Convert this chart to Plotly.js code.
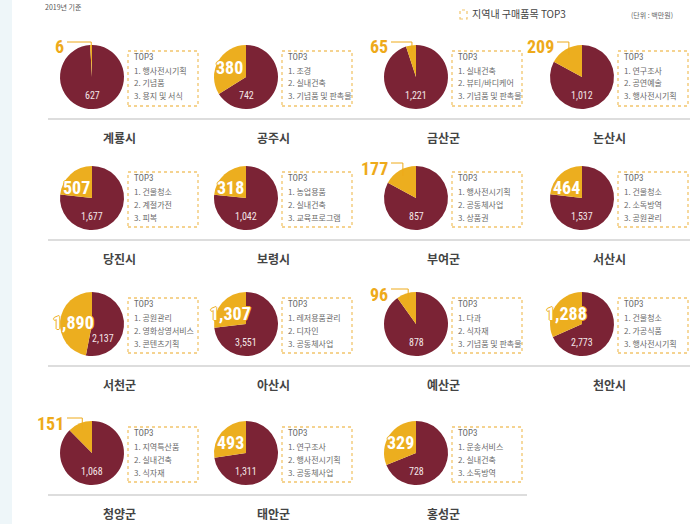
<!DOCTYPE html>
<html>
<head>
<meta charset="utf-8">
<script src="https://cdn.plot.ly/plotly-3.0.1.min.js"></script>
<style>
html,body{margin:0;padding:0;background:#fff;}
#chart{width:693px;height:524px;}
</style>
</head>
<body>
<div id="chart"></div>
<script>
// ---- data ----
const cities = ['계룡시','공주시','금산군','논산시','당진시','보령시','부여군','서산시','서천군','아산시','예산군','천안시','청양군','태안군','홍성군'];
const localValues = [6, 380, 65, 209, 507, 318, 177, 464, 1890, 1307, 96, 1288, 151, 493, 329];
const outsideValues = [627, 742, 1221, 1012, 1677, 1042, 857, 1537, 2137, 3551, 878, 2773, 1068, 1311, 728];
const top1 = ['행사전시기획','조경','실내건축','연구조사','건물청소','농업용품','행사전시기획','건물청소','공원관리','레저용품관리','다과','건물청소','지역특산품','연구조사','운송서비스'];
const top2 = ['기념품','실내건축','뷰티/바디케어','공연예술','계절가전','실내건축','공동체사업','소독방역','영화상영서비스','디자인','식자재','가공식품','실내건축','행사전시기획','실내건축'];
const top3 = ['용지 및 서식','기념품 및 판촉물','기념품 및 판촉물','행사전시기획','피복','교육프로그램','상품권','공원관리','콘텐츠기획','공동체사업','기념품 및 판촉물','행사전시기획','식자재','공동체사업','소독방역'];
const sliceNames = ['지역외 구매액','지역내 구매액'];

// ---- layout / style ----
const W = 693, H = 524;
const colX = [92, 246, 416, 582];
const rowY = [77, 198, 324, 453];
const R = 32;
const YELLOW = '#ecae1f', RED = '#7b2335', YTEXT = '#eeaa1a';
const NUM = '"Liberation Sans Narrow","Roboto Condensed","Roboto","Noto Sans",sans-serif';
const KR = '"Noto Sans CJK KR","Noto Sans",sans-serif';

const px = x => x / W;
const py = y => 1 - y / H;
const fmt = v => v.toLocaleString('en-US');

const traces = [];
const annotations = [];
const shapes = [];

// left light strip
shapes.push({type:'rect', xref:'paper', yref:'paper', x0:0, x1:px(12), y0:0, y1:1, fillcolor:'#eef6f9', line:{width:0}, layer:'below'});

// separator lines
rowY.forEach((cy, r) => {
  const xEnd = r === 3 ? 527 : 690;
  shapes.push({type:'line', xref:'paper', yref:'paper', x0:px(48), x1:px(xEnd), y0:py(cy+42), y1:py(cy+42), line:{color:'#d2d2d2', width:1.5}});
});

cities.forEach((city, i) => {
  const cx = colX[i % 4], cy = rowY[Math.floor(i / 4)];
  const yv = localValues[i], rv = outsideValues[i];
  const share = yv / (yv + rv);

  // outside-region slice first, clockwise from 12 o'clock, so the local slice ends at the top (left side)
  traces.push({
    type:'pie', values:[rv, yv], labels:sliceNames, sort:false,
    direction:'clockwise', rotation:0, textinfo:'none',
    hovertemplate: city + '<br>%{label}: %{value}<extra></extra>',
    marker:{colors:[RED, YELLOW], line:{width:0}},
    domain:{x:[px(cx-R), px(cx+R)], y:[py(cy+R), py(cy-R)]},
    showlegend:false
  });

  // yellow value label
  const mid = share * Math.PI; // half of slice angle (CCW from top)
  if (share < 0.2) {
    const ex = cx - R * 0.8 * Math.sin(mid);
    const ey = cy - R * 0.8 * Math.cos(mid);
    const ly = cy - 35;
    shapes.push({type:'line', xref:'paper', yref:'paper', x0:px(cx-25), x1:px(ex), y0:py(ly), y1:py(ly), line:{color:YTEXT, width:1}});
    shapes.push({type:'line', xref:'paper', yref:'paper', x0:px(ex), x1:px(ex), y0:py(ly), y1:py(ey), line:{color:YTEXT, width:1}});
    annotations.push({xref:'paper', yref:'paper', x:px(cx-26), y:py(cy-30), xanchor:'right', yanchor:'middle', showarrow:false,
      text:fmt(yv), font:{family:NUM, size:18, color:YTEXT, weight:'bold'}});
  } else {
    const m = Math.max(mid, 55 * Math.PI / 180);
    const d = 19;
    annotations.push({xref:'paper', yref:'paper', x:px(cx - d*Math.sin(m)), y:py(cy - d*Math.cos(m)), xanchor:'center', yanchor:'middle', showarrow:false,
      text:fmt(yv), font:{family:NUM, size:18, color:'#ffffff', weight:'bold',
        shadow:'1px 0 0 '+YELLOW+', -1px 0 0 '+YELLOW+', 0 1px 0 '+YELLOW+', 0 -1px 0 '+YELLOW}});
  }

  // red value label
  const ang = (180 - Math.max(0, share - 0.35) * 300) * Math.PI / 180; // clockwise from top
  const rd = 18;
  annotations.push({xref:'paper', yref:'paper', x:px(cx + rd*Math.sin(ang)), y:py(cy - rd*Math.cos(ang)), xanchor:'center', yanchor:'middle', showarrow:false,
    text:fmt(rv), font:{family:NUM, size:10, color:'#f3e6e8'}});

  // TOP3 box
  const bx0 = cx + 36, bx1 = cx + 106, by0 = cy - 26, by1 = cy + 29;
  shapes.push({type:'rect', xref:'paper', yref:'paper', x0:px(bx0), x1:px(bx1), y0:py(by1), y1:py(by0), line:{color:'#f2c56c', width:1.3, dash:'dot'}, fillcolor:'rgba(255,255,255,0)'});
  const lines = ['TOP3', '1. ' + top1[i], '2. ' + top2[i], '3. ' + top3[i]];
  const offs = [6, 19, 32, 45];
  lines.forEach((t, k) => {
    annotations.push({xref:'paper', yref:'paper', x:px(bx0 + 4), y:py(by0 + offs[k]), xanchor:'left', yanchor:'middle', showarrow:false,
      text:t, font:{family: k === 0 ? NUM : KR, size: k === 0 ? 9 : 8, color:'#6a6a6a'}});
  });

  // city name
  annotations.push({xref:'paper', yref:'paper', x:px(cx + 27), y:py(cy + 60), xanchor:'center', yanchor:'middle', showarrow:false,
    text:city, font:{family:KR, size:12, color:'#444444', weight:'bold'}});
});

// header texts
annotations.push({xref:'paper', yref:'paper', x:px(43), y:py(7), xanchor:'left', yanchor:'middle', showarrow:false,
  text:'2019년 기준', font:{family:KR, size:7, color:'#555'}});
shapes.push({type:'rect', xref:'paper', yref:'paper', x0:px(460), x1:px(467), y0:py(19), y1:py(10), line:{color:'#f2c56c', width:1.2, dash:'dot'}});
annotations.push({xref:'paper', yref:'paper', x:px(470), y:py(14), xanchor:'left', yanchor:'middle', showarrow:false,
  text:'지역내 구매품목 TOP3', font:{family:KR, size:10, color:'#444'}});
annotations.push({xref:'paper', yref:'paper', x:px(675), y:py(15), xanchor:'right', yanchor:'middle', showarrow:false,
  text:'(단위 : 백만원)', font:{family:KR, size:7, color:'#666'}});

const layout = {
  width:W, height:H,
  margin:{l:0, r:0, t:0, b:0},
  paper_bgcolor:'#ffffff', plot_bgcolor:'#ffffff',
  showlegend:false,
  shapes: shapes,
  annotations: annotations
};

Plotly.newPlot('chart', traces, layout, {displayModeBar:false, staticPlot:false});
</script>
</body>
</html>
